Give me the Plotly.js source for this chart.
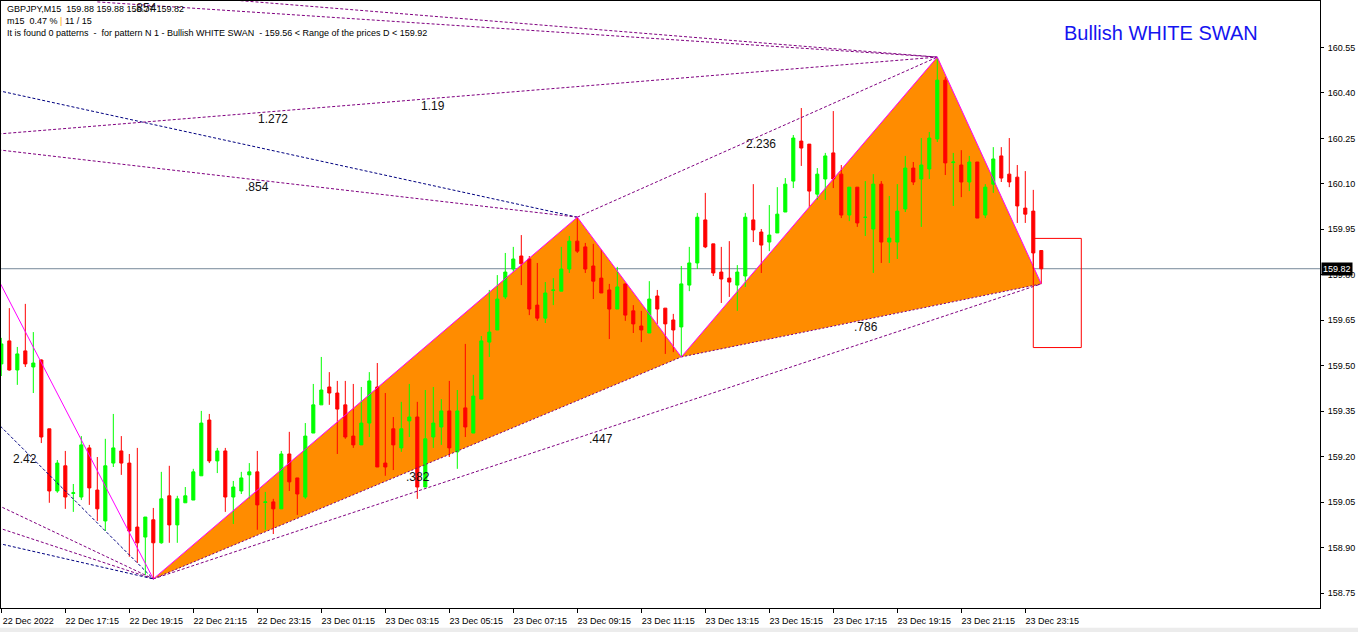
<!DOCTYPE html>
<html><head><meta charset="utf-8">
<script src="https://cdn.plot.ly/plotly-3.0.1.min.js"></script>
<style>html,body{margin:0;padding:0;background:#fff;}#chart{width:1358px;height:632px;}</style>
</head><body><div id="chart"></div>
<script>
// ---- data (GBPJPY M15, bars from 22 Dec 15:15 to 23 Dec 23:45) ----
const tickLabels = ["22 Dec 2022","22 Dec 17:15","22 Dec 19:15","22 Dec 21:15","22 Dec 23:15",
  "23 Dec 01:15","23 Dec 03:15","23 Dec 05:15","23 Dec 07:15","23 Dec 09:15","23 Dec 11:15",
  "23 Dec 13:15","23 Dec 15:15","23 Dec 17:15","23 Dec 19:15","23 Dec 21:15","23 Dec 23:15"];
const barsPerLabel = 8;
const priceTicks = [158.75,158.90,159.05,159.20,159.35,159.50,159.65,159.80,159.95,160.10,160.25,160.40,160.55];

const open = [159.506,159.582,159.486,159.549,159.496,159.519,159.292,159.087,159.170,159.079,
159.067,159.229,159.090,158.988,159.179,159.219,159.179,158.968,158.935,158.992,
158.916,159.071,158.975,159.048,159.057,159.137,159.321,159.186,159.219,159.067,
159.087,159.140,159.150,159.049,159.051,159.028,159.209,159.130,159.067,159.278,
159.371,159.430,159.410,159.371,159.268,159.239,159.311,159.430,159.179,159.292,
159.229,159.318,159.331,159.100,159.265,159.298,159.351,159.216,159.361,159.278,
159.390,159.578,159.618,159.727,159.819,159.862,159.852,159.700,159.657,159.748,
159.746,159.819,159.911,159.892,159.829,159.789,159.750,159.687,159.770,159.681,
159.631,159.608,159.730,159.690,159.651,159.628,159.766,159.839,159.981,159.902,
159.809,159.789,159.766,159.796,159.981,159.941,159.908,159.938,160.007,160.109,
160.241,160.231,160.066,160.116,160.202,160.132,159.997,160.089,159.989,159.951,
160.099,159.908,159.908,160.017,160.152,160.116,160.149,160.248,160.442,160.170,
160.162,160.106,160.172,159.997,160.099,160.192,160.132,160.122,160.020,160.010,
159.880];
const high = [159.592,159.690,159.562,159.704,159.611,159.521,159.292,159.189,159.219,159.110,
159.268,159.239,159.199,159.259,159.341,159.268,159.209,159.229,159.001,159.031,
159.150,159.170,159.071,159.100,159.160,159.351,159.341,159.229,159.229,159.120,
159.150,159.179,159.219,159.084,159.061,159.219,159.282,159.130,159.311,159.440,
159.529,159.479,159.450,159.450,159.440,159.430,159.479,159.509,159.410,159.331,
159.381,159.440,159.381,159.420,159.430,159.390,159.450,159.420,159.572,159.470,
159.598,159.750,159.799,159.872,159.892,159.931,159.862,159.839,159.776,159.789,
159.892,159.928,159.990,159.905,159.902,159.882,159.770,159.826,159.770,159.700,
159.681,159.779,159.750,159.690,159.671,159.829,159.892,160.004,160.070,159.902,
159.892,159.911,159.832,160.004,160.099,159.951,160.030,160.089,160.119,160.261,
160.350,160.231,160.152,160.202,160.340,160.162,160.089,160.089,160.109,160.132,
160.109,160.060,160.099,160.192,160.172,160.251,160.271,160.518,160.452,160.202,
160.211,160.192,160.172,160.099,160.221,160.221,160.251,160.162,160.142,160.080,
159.880];
const low = [159.466,159.484,159.437,159.496,159.410,159.245,159.048,159.081,159.028,159.018,
159.057,159.041,158.988,158.955,159.166,159.140,158.870,158.850,158.810,158.797,
158.913,158.916,158.916,159.048,159.057,159.137,159.179,159.146,159.018,158.978,
159.077,159.061,158.959,158.959,158.945,159.028,159.087,159.008,159.061,159.278,
159.371,159.371,159.209,159.259,159.229,159.239,159.265,159.166,159.137,159.156,
159.216,159.265,159.061,159.100,159.229,159.239,159.199,159.160,159.265,159.278,
159.390,159.529,159.618,159.720,159.809,159.766,159.667,159.648,159.641,159.700,
159.746,159.806,159.872,159.806,159.720,159.740,159.588,159.687,159.648,159.608,
159.578,159.608,159.638,159.539,159.545,159.529,159.746,159.819,159.888,159.796,
159.707,159.727,159.681,159.760,159.908,159.806,159.878,159.938,160.007,160.086,
160.159,160.023,160.047,160.047,160.086,159.987,159.977,159.958,159.928,159.806,
159.839,159.839,159.852,160.007,160.096,159.958,160.116,160.238,160.129,160.027,
160.056,160.076,159.987,159.987,160.070,160.106,160.089,159.971,159.971,159.819,
159.770];
const close = [159.572,159.486,159.539,159.506,159.509,159.265,159.087,159.179,159.067,159.081,
159.239,159.097,159.028,159.170,159.229,159.179,158.955,158.916,159.001,158.916,
159.061,158.975,159.061,159.071,159.150,159.311,159.186,159.219,159.067,159.100,
159.130,159.150,159.041,159.051,159.028,159.209,159.117,159.077,159.268,159.371,
159.420,159.410,159.357,159.265,159.239,159.311,159.450,159.166,159.166,159.239,
159.292,159.331,159.100,159.259,159.311,159.351,159.229,159.351,159.298,159.400,
159.582,159.611,159.720,159.809,159.852,159.836,159.687,159.657,159.740,159.750,
159.819,159.911,159.878,159.819,159.779,159.740,159.687,159.760,159.667,159.638,
159.618,159.720,159.687,159.638,159.618,159.770,159.839,159.990,159.892,159.806,
159.786,159.776,159.809,159.990,159.948,159.898,159.931,160.000,160.099,160.251,
160.218,160.076,160.132,160.192,160.116,159.997,160.089,159.971,159.990,160.099,
159.908,159.921,160.010,160.152,160.106,160.162,160.251,160.442,160.169,160.172,
160.106,160.172,159.987,160.089,160.182,160.119,160.106,160.027,160.000,159.872,
159.820];

// pattern pivots (bar index) : X A B C D
const pivotBars = [19, 72, 85, 117, 130];
const pivotPrices = [low[19], high[72], low[85], high[117], low[130]];
// older rays ending at a pivot: start bar, start price, end pivot (0=X,1=A,3=C)
const rayStartBar   = [-1, -1, -1, -1, -1, -1, -1, -1, 0, 12];
const rayStartPrice = [159.816, 159.324, 159.047, 158.971, 158.918, 160.411, 160.214, 160.263, 160.768, 160.700];
const rayEnd        = [0, 0, 0, 0, 0, 1, 1, 3, 3, 3];
const fibText = ["1.272","1.19",".854",".854","2.42",".382",".447","2.236",".786"];
const bid = close[close.length - 1];
const dLow = 159.56, dHigh = 159.92;
const dBoxBars = [129, 135];

// ---- drawing ----
const bars = open.map((_, i) => i);
const FONT = "Liberation Sans, Arial, sans-serif";
const MAG = "#ff00ff", PUR = "#800080", NAVY = "#000080";
const pt = k => [pivotBars[k], pivotPrices[k]];
const [X, A, B, C, D] = [0,1,2,3,4].map(pt);

const traces = [];
function seg(p, q, color, dash) {
  traces.push({type:"scatter", mode:"lines", x:[p[0], q[0]], y:[p[1], q[1]],
    line:{color:color, width:1, dash:dash || "solid"}, hoverinfo:"skip", showlegend:false});
}
const rayColor = [MAG, NAVY, PUR, PUR, NAVY, NAVY, PUR, PUR, PUR, PUR];
rayStartBar.forEach((b, i) => {
  seg([b, rayStartPrice[i]], pt(rayEnd[i]), rayColor[i], i === 0 ? "solid" : "3px,2px");
});
seg(X, B, PUR, "2px,2px");
seg(B, D, PUR, "2px,2px");
seg(X, D, PUR, "3px,2px");
seg(A, C, PUR, "3px,2px");
seg(X, A, MAG); seg(A, B, MAG); seg(B, C, MAG); seg(C, D, MAG);

traces.unshift({
  type:"candlestick", x:bars, open:open, high:high, low:low, close:close,
  increasing:{line:{color:"#00ff00", width:1}, fillcolor:"#00ff00"},
  decreasing:{line:{color:"#ff0000", width:1}, fillcolor:"#ff0000"},
  whiskerwidth:0, hoverinfo:"skip", showlegend:false
});

const tri = (p, q, r) => `M ${p[0]},${p[1]} L ${q[0]},${q[1]} L ${r[0]},${r[1]} Z`;
const shapes = [
  {type:"path", path:tri(X, A, B), xref:"x", yref:"y", fillcolor:"#ff8c00", line:{width:0}, layer:"below"},
  {type:"path", path:tri(B, C, D), xref:"x", yref:"y", fillcolor:"#ff8c00", line:{width:0}, layer:"below"},
  {type:"line", xref:"paper", x0:0, x1:1, yref:"y", y0:bid, y1:bid, line:{color:"#778899", width:1}, layer:"below"},
  {type:"rect", xref:"x", yref:"y", x0:dBoxBars[0], x1:dBoxBars[1], y0:dLow, y1:dHigh, line:{color:"#ff0000", width:1}, fillcolor:"rgba(0,0,0,0)"},
  {type:"rect", xref:"paper", yref:"paper", x0:-0.01, x1:1.05, y0:-0.0325, y1:-0.045, fillcolor:"#ececec", line:{width:0}}
];

const fibPos = [[33.96,160.314],[53.96,160.356],[31.96,160.089],[17.96,160.680],[2.96,159.193],
                [52.09,159.133],[74.96,159.259],[94.96,160.231],[108.09,159.628]];
const ann = fibText.map((t, i) => ({x:fibPos[i][0], y:fibPos[i][1], xref:"x", yref:"y", text:t,
  showarrow:false, font:{family:FONT, size:12, color:"#111"}, xanchor:"center", yanchor:"middle"}));

const nb = "\u00a0";
const f2 = v => v.toFixed(2);
const last = open.length - 1;
const infoLines = [
  `GBPJPY,M15${nb}${nb}${f2(open[last])} ${f2(high[last])} ${f2(low[last])} ${f2(close[last])}`,
  `m15${nb}${nb}0.47 % <span style="color:#ff9900">|</span> 11 / 15`,
  `It is found 0 patterns${nb}${nb}-${nb}${nb}for pattern N 1 - Bullish WHITE SWAN${nb}${nb}- ${f2(dLow)} &lt; Range of the prices D &lt; ${f2(dHigh)}`
];
const lineY = [9, 21, 33];
infoLines.forEach((t, i) => ann.unshift({xref:"paper", yref:"paper", x:4/1319, y:1 - (lineY[i]-1)/607,
  text:t, showarrow:false, xanchor:"left", yanchor:"middle", font:{family:FONT, size:9, color:"#000"}}));
ann.push({xref:"paper", yref:"paper", x:(1062-1)/1319, y:1 - (33-1)/607, text:"Bullish WHITE SWAN",
  showarrow:false, xanchor:"left", yanchor:"middle", font:{family:FONT, size:20, color:"#1414f0"}});
ann.push({xref:"paper", yref:"y", x:1.0006, y:bid, text:f2(bid), showarrow:false, xanchor:"left", yanchor:"middle",
  bgcolor:"#000", borderpad:1, font:{family:FONT, size:9, color:"#fff"}});

const layout = {
  width:1358, height:632,
  margin:{l:1, r:38, t:1, b:24, pad:0},
  paper_bgcolor:"#fff", plot_bgcolor:"#fff",
  showlegend:false, boxgap:0.45,
  xaxis:{range:[-0.04, 164.84], showgrid:false, zeroline:false, showline:true, mirror:true,
    linecolor:"#000", linewidth:1, ticks:"outside", ticklen:4, tickcolor:"#000",
    tickvals:tickLabels.map((_, i) => i * barsPerLabel), ticktext:tickLabels,
    tickfont:{family:FONT, size:9, color:"#000"}, ticklabelshift:27, tickangle:0,
    rangeslider:{visible:false}, fixedrange:true},
  yaxis:{range:[158.701, 160.703], side:"right", showgrid:false, zeroline:false, showline:true, mirror:true,
    linecolor:"#000", linewidth:1, ticks:"outside", ticklen:3, tickcolor:"#000",
    tickvals:priceTicks, ticktext:priceTicks.map(f2), ticklabelstandoff:2,
    tickfont:{family:FONT, size:9, color:"#000"}, fixedrange:true},
  shapes:shapes, annotations:ann
};
Plotly.newPlot("chart", traces, layout, {staticPlot:true, displayModeBar:false});
</script></body></html>
